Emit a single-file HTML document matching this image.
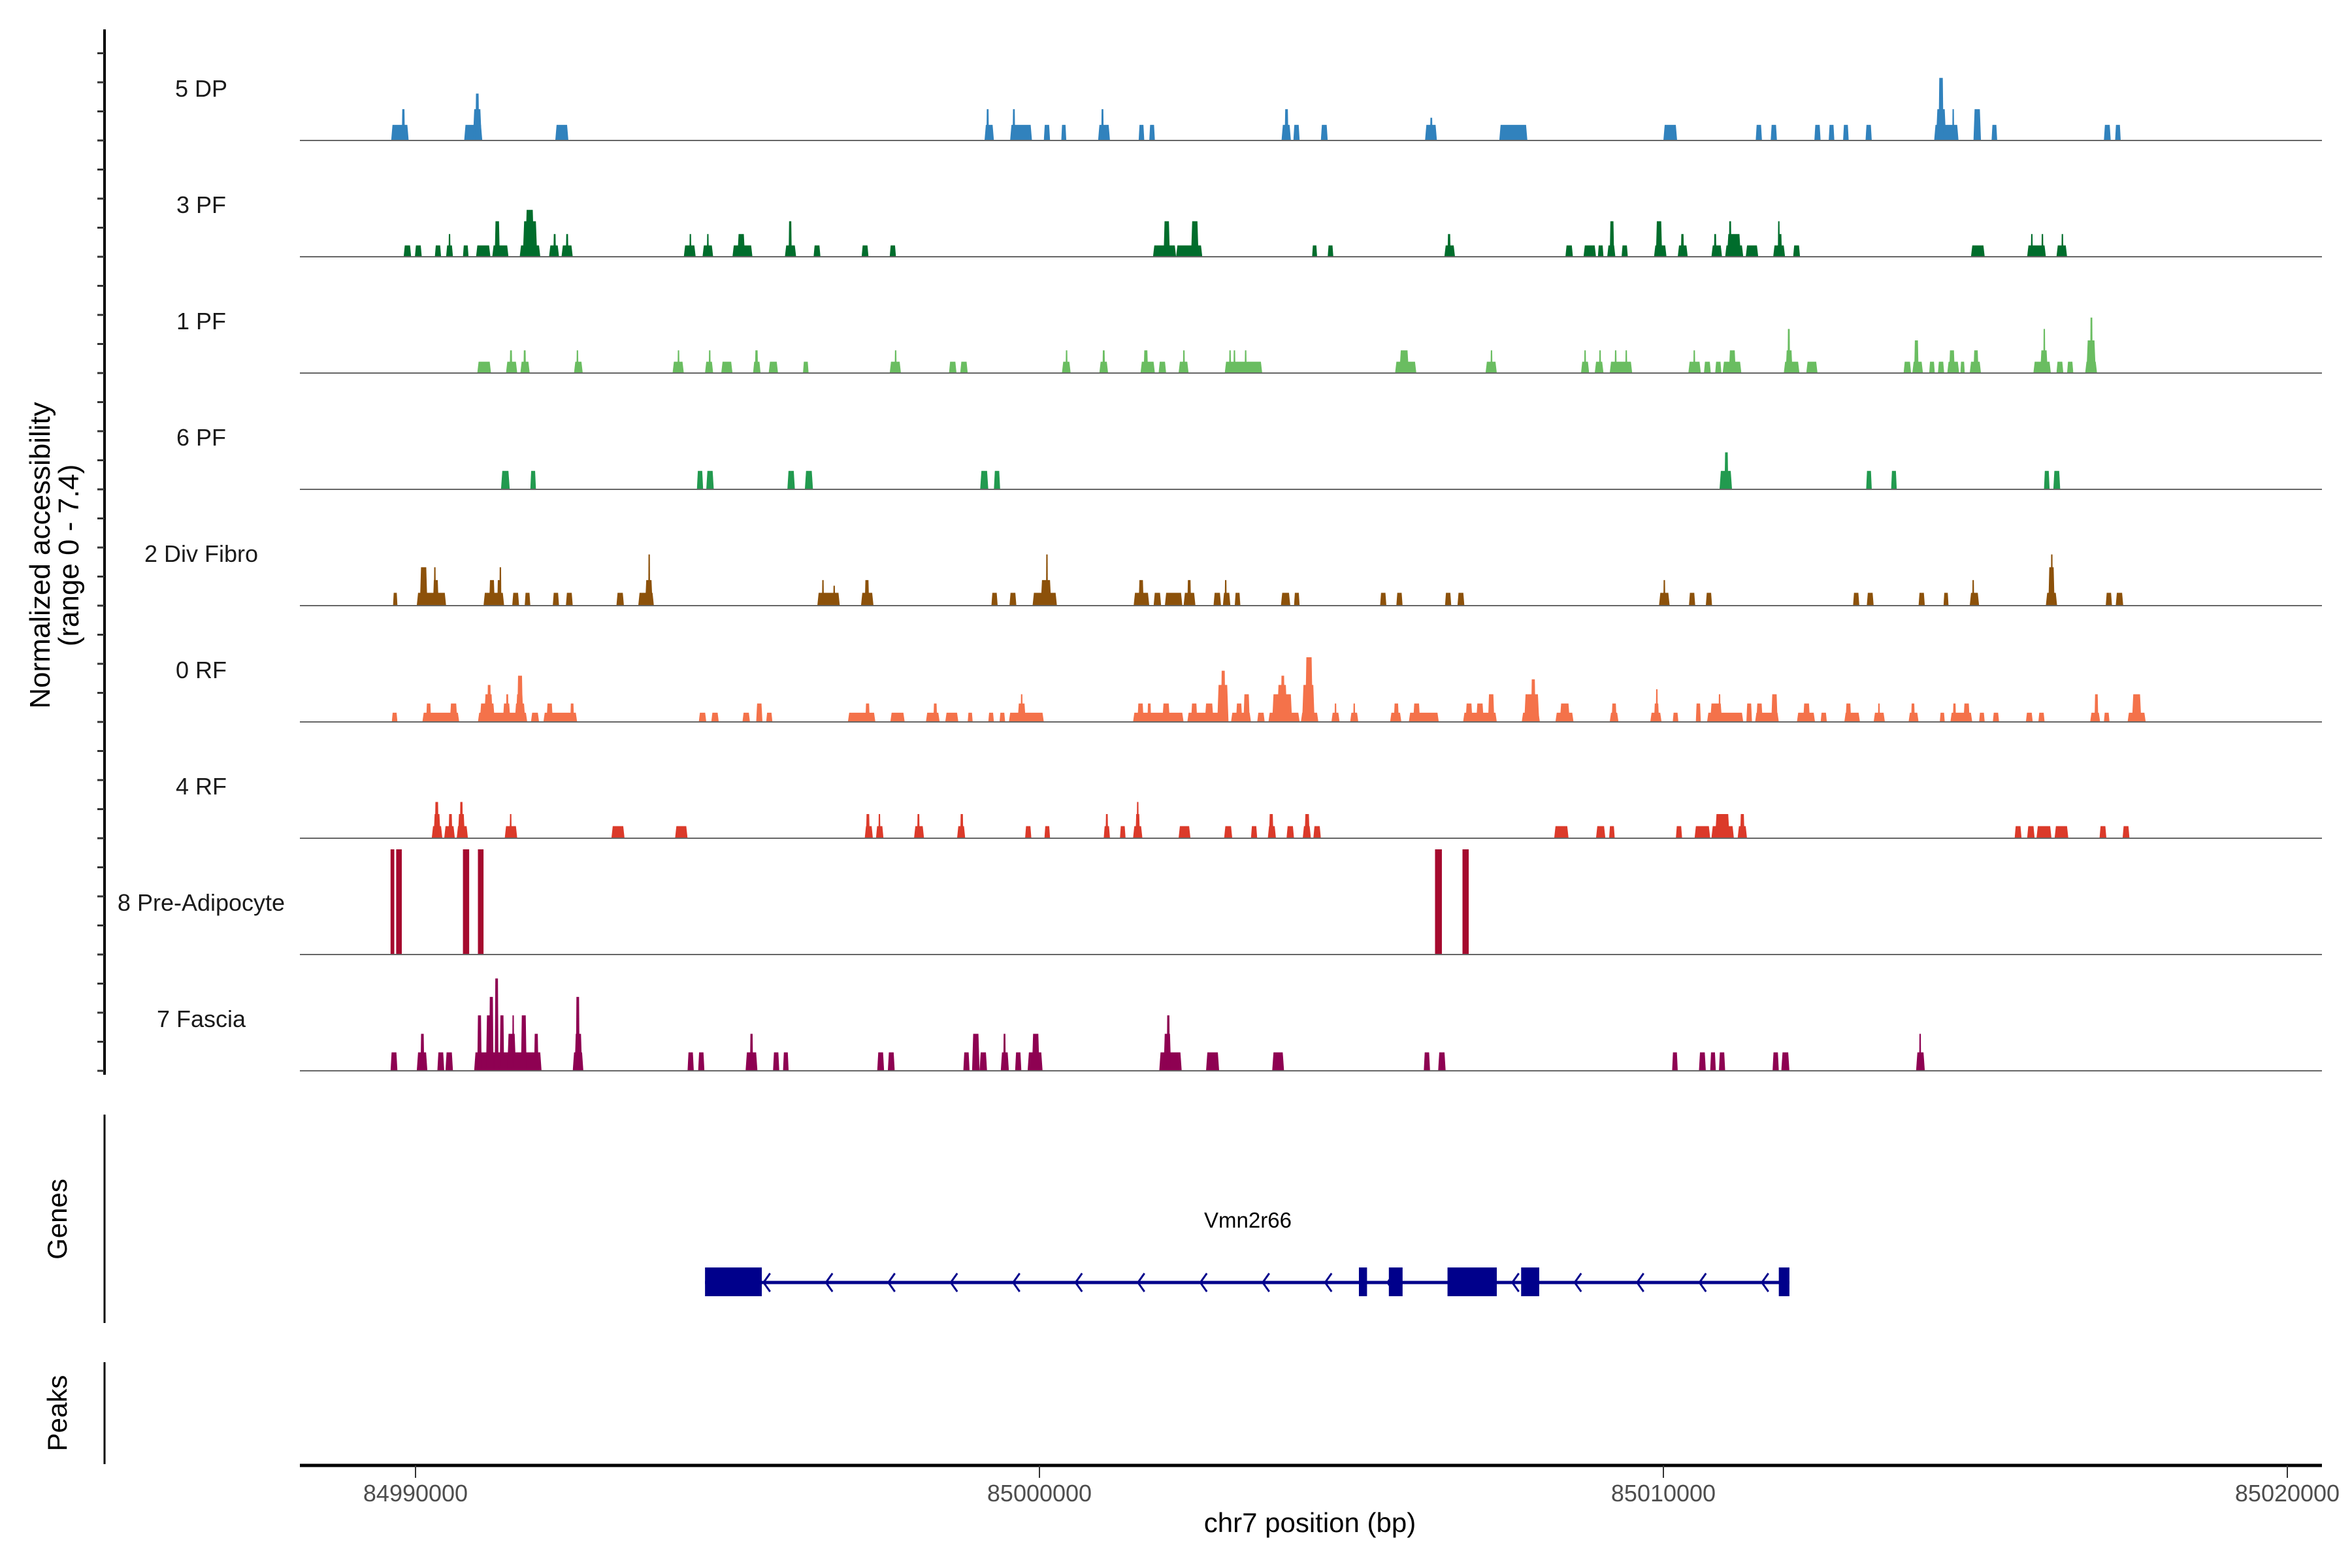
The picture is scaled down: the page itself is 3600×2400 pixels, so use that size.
<!DOCTYPE html>
<html><head><meta charset="utf-8">
<style>
html,body{margin:0;padding:0;background:#fff;}
svg{display:block;font-family:"Liberation Sans",Arial,sans-serif;}
</style></head>
<body>
<svg id="chart" width="3600" height="2400" viewBox="0 0 3600 2400" xmlns="http://www.w3.org/2000/svg">
<rect x="0" y="0" width="3600" height="2400" fill="#fff"/>
<g id="tracks"></g>
<g id="axes"></g>
<g id="genes"></g>
</svg>
<script>
// ---- data (positions in kb offset from 84,990,000 bp; heights in normalized accessibility) ----
const regionOrigin = 84990000;
const trackNames = ["5 DP","3 PF","1 PF","6 PF","2 Div Fibro","0 RF","4 RF","8 Pre-Adipocyte","7 Fascia"];
const trackColors = ["#3182bd","#006d2c","#6abd61","#229a4f","#8c510a","#f4724a","#db3a2a","#a50a2e","#8e0152"];
const xTicks = [84990000,85000000,85010000,85020000];
const xTickLabels = ["84990000","85000000","85010000","85020000"];

const peaksDP = [[-0.39,-0.11,1.1],[-0.22,-0.17,2.2],[0.78,1.07,1.1],[0.92,1.06,2.2],[0.96,1.02,3.3],[2.24,2.45,1.1],[9.12,9.27,1.1],[9.15,9.19,2.2],[9.53,9.88,1.1],[9.57,9.61,2.2],[10.07,10.17,1.1],[10.35,10.43,1.1],[10.94,11.13,1.1],[10.99,11.03,2.2],[11.59,11.68,1.1],[11.76,11.85,1.1],[13.88,14.03,1.1],[14.07,14.17,1.1],[13.93,13.99,2.2],[14.51,14.62,1.1],[16.18,16.37,1.1],[16.26,16.30,1.6],[17.37,17.82,1.1],[20.00,20.22,1.1],[21.48,21.58,1.1],[21.72,21.82,1.1],[22.42,22.52,1.1],[22.65,22.74,1.1],[22.88,22.97,1.1],[23.24,23.34,1.1],[24.34,24.73,1.1],[24.37,24.53,2.2],[24.41,24.49,4.4],[24.63,24.66,2.2],[24.97,25.09,2.2],[25.26,25.35,1.1],[27.06,27.17,1.1],[27.24,27.33,1.1]];
const peaksPF3 = [[-0.19,-0.07,0.8],[-0.01,0.10,0.8],[0.31,0.41,0.8],[0.49,0.60,0.8],[0.53,0.56,1.6],[0.76,0.85,0.8],[0.97,1.20,0.8],[1.23,1.49,0.8],[1.27,1.35,2.5],[1.67,2.00,0.8],[1.72,1.95,2.5],[1.76,1.90,3.3],[2.14,2.30,0.8],[2.21,2.25,1.6],[2.34,2.52,0.8],[2.41,2.45,1.6],[4.30,4.49,0.8],[4.39,4.42,1.6],[4.60,4.77,0.8],[4.67,4.70,1.6],[5.08,5.40,0.8],[5.16,5.28,1.6],[5.92,6.10,0.8],[5.98,6.03,2.5],[6.38,6.49,0.8],[7.15,7.26,0.8],[7.60,7.70,0.8],[11.82,12.19,0.8],[11.99,12.09,2.5],[12.19,12.61,0.8],[12.43,12.55,2.5],[14.37,14.45,0.8],[14.62,14.71,0.8],[16.49,16.66,0.8],[16.54,16.59,1.6],[18.43,18.55,0.8],[18.72,18.92,0.8],[18.95,19.04,0.8],[19.10,19.23,0.8],[19.14,19.21,2.5],[19.33,19.43,0.8],[19.85,20.05,0.8],[19.88,19.98,2.5],[20.23,20.39,0.8],[20.28,20.33,1.6],[20.77,20.94,0.8],[20.81,20.85,1.6],[20.99,21.28,0.8],[21.02,21.24,1.6],[21.05,21.09,2.5],[21.32,21.52,0.8],[21.76,21.95,0.8],[21.84,21.90,1.6],[21.84,21.86,2.5],[22.08,22.19,0.8],[24.93,25.15,0.8],[25.83,26.13,0.8],[25.89,25.92,1.6],[26.06,26.09,1.6],[26.30,26.47,0.8],[26.38,26.41,1.6]];
const peaksPF1 = [[0.99,1.21,0.8],[1.45,1.63,0.8],[1.51,1.55,1.6],[1.68,1.83,0.8],[1.73,1.77,1.6],[2.54,2.68,0.8],[2.58,2.61,1.6],[4.12,4.30,0.8],[4.20,4.23,1.6],[4.64,4.77,0.8],[4.70,4.73,1.6],[4.90,5.08,0.8],[5.41,5.53,0.8],[5.44,5.49,1.6],[5.66,5.81,0.8],[6.21,6.30,0.8],[7.60,7.78,0.8],[7.68,7.71,1.6],[8.55,8.67,0.8],[8.73,8.85,0.8],[10.36,10.50,0.8],[10.42,10.45,1.6],[10.96,11.10,0.8],[11.01,11.05,1.6],[11.62,11.85,0.8],[11.67,11.74,1.6],[11.91,12.03,0.8],[12.23,12.39,0.8],[12.30,12.33,1.6],[12.97,13.57,0.8],[13.04,13.07,1.6],[13.11,13.14,1.6],[13.29,13.32,1.6],[15.70,16.04,0.8],[15.77,15.92,1.6],[17.15,17.33,0.8],[17.23,17.26,1.6],[18.68,18.81,0.8],[18.73,18.76,1.6],[18.90,19.04,0.8],[18.97,19.00,1.6],[19.14,19.50,0.8],[19.22,19.25,1.6],[19.39,19.42,1.6],[20.40,20.60,0.8],[20.48,20.51,1.6],[20.65,20.76,0.8],[20.83,20.93,0.8],[20.95,21.25,0.8],[21.05,21.16,1.6],[21.93,22.18,0.8],[21.96,22.07,1.6],[21.99,22.03,3.1],[22.29,22.47,0.8],[23.85,23.97,0.8],[23.99,24.16,0.8],[24.02,24.09,2.3],[24.26,24.35,0.8],[24.40,24.50,0.8],[24.55,24.74,0.8],[24.58,24.67,1.6],[24.76,24.83,0.8],[24.91,25.09,0.8],[24.97,25.05,1.6],[25.93,26.21,0.8],[26.04,26.16,1.6],[26.09,26.12,3.1],[26.30,26.41,0.8],[26.47,26.57,0.8],[26.76,26.95,0.8],[26.78,26.93,2.3],[26.84,26.88,3.9]];
const peaksPF6 = [[1.37,1.51,1.3],[1.84,1.93,1.3],[4.51,4.61,1.3],[4.66,4.78,1.3],[5.96,6.08,1.3],[6.24,6.37,1.3],[9.05,9.18,1.3],[9.27,9.37,1.3],[20.90,21.10,1.3],[20.98,21.04,2.6],[23.25,23.34,1.3],[23.65,23.74,1.3],[26.10,26.19,1.3],[26.25,26.36,1.3]];
const peaksDiv = [[-0.36,-0.29,0.9],[0.02,0.49,0.9],[0.07,0.19,2.7],[0.28,0.37,1.8],[0.30,0.32,2.7],[1.09,1.42,0.9],[1.18,1.27,1.8],[1.31,1.37,1.8],[1.35,1.37,2.7],[1.55,1.66,0.9],[1.75,1.84,0.9],[2.20,2.30,0.9],[2.41,2.52,0.9],[3.22,3.34,0.9],[3.57,3.82,0.9],[3.68,3.80,1.8],[3.73,3.76,3.6],[6.44,6.80,0.9],[6.52,6.54,1.8],[6.70,6.72,1.4],[7.14,7.34,0.9],[7.20,7.27,1.8],[9.23,9.33,0.9],[9.52,9.63,0.9],[9.89,10.28,0.9],[10.02,10.19,1.8],[10.11,10.13,3.6],[11.51,11.76,0.9],[11.59,11.67,1.8],[11.83,11.95,0.9],[12.01,12.29,0.9],[12.31,12.50,0.9],[12.37,12.43,1.8],[12.79,12.91,0.9],[12.94,13.06,0.9],[12.97,13.00,1.8],[13.13,13.22,0.9],[13.87,14.02,0.9],[14.08,14.17,0.9],[15.46,15.56,0.9],[15.72,15.82,0.9],[16.50,16.60,0.9],[16.70,16.81,0.9],[19.93,20.10,0.9],[20.00,20.03,1.8],[20.41,20.51,0.9],[20.68,20.78,0.9],[23.04,23.14,0.9],[23.26,23.37,0.9],[24.09,24.19,0.9],[24.49,24.57,0.9],[24.91,25.06,0.9],[24.95,24.98,1.8],[26.13,26.31,0.9],[26.17,26.27,2.7],[26.21,26.24,3.6],[27.09,27.19,0.9],[27.25,27.37,0.9]];
const peaksRF0 = [[-0.38,-0.29,0.65],[0.11,0.70,0.65],[0.17,0.25,1.3],[0.55,0.67,1.3],[1.00,1.79,0.65],[1.03,1.27,1.3],[1.10,1.24,1.95],[1.15,1.21,2.6],[1.40,1.52,1.3],[1.45,1.49,1.95],[1.59,1.76,1.3],[1.61,1.73,1.95],[1.63,1.72,3.25],[1.85,1.98,0.65],[2.05,2.59,0.65],[2.10,2.20,1.3],[2.48,2.54,1.3],[4.54,4.66,0.65],[4.74,4.86,0.65],[5.24,5.36,0.65],[5.46,5.56,1.3],[5.62,5.72,0.65],[6.93,7.37,0.65],[7.21,7.28,1.3],[7.61,7.84,0.65],[8.18,8.40,0.65],[8.30,8.36,1.3],[8.49,8.70,0.65],[8.85,8.93,0.65],[9.18,9.27,0.65],[9.36,9.45,0.65],[9.51,10.07,0.65],[9.65,9.78,1.3],[9.70,9.73,1.95],[11.50,12.31,0.65],[11.57,11.67,1.3],[11.73,11.79,1.3],[11.97,12.09,1.3],[12.37,13.03,0.65],[12.43,12.53,1.3],[12.65,12.79,1.3],[12.85,13.03,2.6],[12.91,12.98,3.6],[13.07,13.39,0.65],[13.15,13.25,1.3],[13.27,13.37,1.95],[13.49,13.61,0.65],[13.67,14.17,0.65],[13.73,14.05,1.95],[13.81,13.97,2.6],[13.87,13.93,3.25],[14.19,14.47,0.65],[14.21,14.41,2.6],[14.26,14.38,4.55],[14.68,14.81,0.65],[14.73,14.76,1.3],[14.98,15.11,0.65],[15.03,15.06,1.3],[15.62,15.80,0.65],[15.68,15.76,1.3],[15.92,16.40,0.65],[15.99,16.10,1.3],[16.79,17.33,0.65],[16.83,16.94,1.3],[17.00,17.12,1.3],[17.19,17.29,1.95],[17.73,18.02,0.65],[17.77,18.01,1.95],[17.88,17.95,3.0],[18.27,18.56,0.65],[18.34,18.50,1.3],[19.14,19.28,0.65],[19.17,19.25,1.3],[19.79,19.97,0.65],[19.85,19.93,1.3],[19.88,19.91,2.3],[20.15,20.24,0.65],[20.52,20.60,1.3],[20.70,21.28,0.65],[20.75,20.94,1.3],[20.89,20.91,1.95],[21.33,21.42,1.3],[21.47,21.85,0.65],[21.49,21.59,1.3],[21.73,21.83,1.95],[22.14,22.43,0.65],[22.24,22.35,1.3],[22.52,22.62,0.65],[22.90,23.15,0.65],[22.92,23.01,1.3],[23.37,23.55,0.65],[23.44,23.47,1.3],[23.93,24.09,0.65],[23.97,24.03,1.3],[24.43,24.51,0.65],[24.60,24.95,0.65],[24.64,24.69,1.3],[24.81,24.91,1.3],[25.06,25.15,0.65],[25.28,25.38,0.65],[25.81,25.92,0.65],[26.01,26.11,0.65],[26.84,27.00,0.65],[26.91,26.97,1.95],[27.06,27.15,0.65],[27.44,27.73,0.65],[27.51,27.66,1.95]];
const peaksRF4 = [[0.26,0.43,0.85],[0.29,0.40,1.7],[0.31,0.37,2.55],[0.46,0.63,0.85],[0.53,0.59,1.7],[0.66,0.84,0.85],[0.68,0.79,1.7],[0.71,0.76,2.55],[1.43,1.63,0.85],[1.51,1.54,1.7],[3.14,3.35,0.85],[4.16,4.36,0.85],[7.20,7.33,0.85],[7.22,7.28,1.7],[7.38,7.50,0.85],[7.42,7.45,1.7],[7.99,8.15,0.85],[8.04,8.08,1.7],[8.68,8.81,0.85],[8.73,8.78,1.7],[9.77,9.87,0.85],[10.08,10.17,0.85],[11.03,11.13,0.85],[11.06,11.10,1.7],[11.29,11.38,0.85],[11.50,11.65,0.85],[11.54,11.61,1.7],[11.56,11.59,2.55],[12.23,12.42,0.85],[12.96,13.09,0.85],[13.39,13.49,0.85],[13.66,13.79,0.85],[13.68,13.75,1.7],[13.96,14.08,0.85],[14.22,14.35,0.85],[14.25,14.33,1.7],[14.39,14.51,0.85],[18.25,18.48,0.85],[18.92,19.07,0.85],[19.13,19.22,0.85],[20.20,20.30,0.85],[20.50,20.75,0.85],[20.77,21.13,0.85],[20.83,21.06,1.7],[21.19,21.34,0.85],[21.23,21.30,1.7],[25.63,25.74,0.85],[25.83,25.95,0.85],[25.98,26.22,0.85],[26.27,26.49,0.85],[26.99,27.10,0.85],[27.36,27.47,0.85]];
const peaksPA8 = [[-0.40,-0.34,7.4],[-0.31,-0.22,7.4],[0.76,0.86,7.4],[1.00,1.09,7.4],[16.34,16.45,7.4],[16.78,16.88,7.4]];
const peaksFas = [[-0.40,-0.29,1.3],[0.02,0.19,1.3],[0.08,0.14,2.6],[0.35,0.46,1.3],[0.48,0.60,1.3],[0.94,2.02,1.3],[0.99,1.06,3.9],[1.13,1.23,3.9],[1.18,1.25,5.2],[1.27,1.33,6.5],[1.35,1.42,3.9],[1.47,1.61,2.6],[1.55,1.58,3.9],[1.69,1.78,3.9],[1.90,1.97,2.6],[2.52,2.69,1.3],[2.55,2.67,2.6],[2.57,2.63,5.2],[4.36,4.46,1.3],[4.53,4.63,1.3],[5.29,5.48,1.3],[5.36,5.41,2.6],[5.73,5.83,1.3],[5.89,5.98,1.3],[7.40,7.51,1.3],[7.57,7.68,1.3],[8.78,8.88,1.3],[8.92,9.04,2.6],[9.04,9.16,1.3],[9.38,9.51,1.3],[9.42,9.46,2.6],[9.61,9.71,1.3],[9.81,10.05,1.3],[9.88,10.00,2.6],[11.92,12.28,1.3],[11.99,12.11,2.6],[12.04,12.09,3.9],[12.67,12.88,1.3],[13.73,13.92,1.3],[16.16,16.26,1.3],[16.39,16.51,1.3],[20.14,20.23,1.3],[20.57,20.68,1.3],[20.75,20.84,1.3],[20.89,20.99,1.3],[21.75,21.85,1.3],[21.89,22.02,1.3],[24.05,24.19,1.3],[24.10,24.13,2.6]];
const trackPeaks = [peaksDP,peaksPF3,peaksPF1,peaksPF6,peaksDiv,peaksRF0,peaksRF4,peaksPA8,peaksFas];

const geneName = "Vmn2r66";
const geneStartKb = 4.64, geneEndKb = 22.02;
const exonStarts = [4.64,15.12,15.60,16.54,17.72,21.85];
const exonEnds   = [5.55,15.25,15.82,17.33,18.01,22.02];

// ---- scales ----
const NS = "http://www.w3.org/2000/svg";
const plotLeft = 459, plotRight = 3554;
const bpPerPx = 1000/95.5;
function xScale(bp){ return 636 + (bp - 84990000)/bpPerPx; }
function kbToBp(kb){ return regionOrigin + kb*1000; }
const yMax = 7.4, trackPx = 161, firstBase = 215, trackStep = 178;
function yScale(v, base){ return base - Math.min(v, yMax)/yMax*trackPx; }
function mk(tag, attrs, parent){ const e=document.createElementNS(NS,tag); for(const k in attrs) e.setAttribute(k, attrs[k]); parent.appendChild(e); return e; }

const tracksG = document.getElementById('tracks');
trackNames.forEach((name, i) => {
  const base = firstBase + i*trackStep;
  const g = mk('g', {}, tracksG);
  
  
  const lab = mk('text', {x:308, y:base-67, 'font-size':36, 'text-anchor':'middle', fill:'#1a1a1a'}, g);
  lab.textContent = name;
  
  
  trackPeaks[i].forEach(p => {
    let x0 = xScale(kbToBp(p[0])), x1 = xScale(kbToBp(p[1]));
    if (x1 - x0 < 3) { const c=(x0+x1)/2; x0=c-1.5; x1=c+1.5; }
    const yT = yScale(p[2], base);
    const d = p[2] >= yMax ? 0 : Math.min((x1-x0)*0.15, 2);
    const poly = mk('polygon', {points:`${x0},${base} ${x0+d},${yT} ${x1-d},${yT} ${x1},${base}`, fill:trackColors[i]}, g);
    
    
  });
  const bl = mk('line', {x1:plotLeft, x2:plotRight, y1:base, y2:base, stroke:'#666', 'stroke-width':2}, g);
  
  
});

// ---- axes ----
const axesG = document.getElementById('axes');
const yAxis = mk('line', {x1:160, x2:160, y1:45, y2:1645, stroke:'#000', 'stroke-width':4}, axesG);


for (let i=0;i<trackNames.length;i++){
  const base = firstBase + i*trackStep;
  for (let k=0;k<4;k++){
    const y = base - k*trackStep/4;
    const t = mk('line', {x1:149, x2:160, y1:y, y2:y, stroke:'#333', 'stroke-width':3}, axesG);
    
    
  }
}
const yTitle = mk('text', {transform:'translate(84,850) rotate(-90)', 'font-size':44, 'text-anchor':'middle', fill:'#000'}, axesG);


const t1 = mk('tspan', {x:0, dy:-8}, yTitle); t1.textContent = 'Normalized accessibility';
const t2 = mk('tspan', {x:0, dy:44}, yTitle); t2.textContent = '(range 0 - 7.4)';

const gAx = mk('line', {x1:160, x2:160, y1:1706, y2:2025, stroke:'#000', 'stroke-width':3}, axesG);
 
const gT = mk('text', {transform:'translate(102,1866) rotate(-90)', 'font-size':42, 'text-anchor':'middle', fill:'#000'}, axesG);
gT.textContent = 'Genes';  
const pAx = mk('line', {x1:160, x2:160, y1:2085, y2:2241, stroke:'#000', 'stroke-width':3}, axesG);
 
const pT = mk('text', {transform:'translate(102,2163) rotate(-90)', 'font-size':42, 'text-anchor':'middle', fill:'#000'}, axesG);
pT.textContent = 'Peaks';  

const xAx = mk('line', {x1:plotLeft, x2:plotRight, y1:2243, y2:2243, stroke:'#000', 'stroke-width':5}, axesG);
 
xTicks.forEach((v, i) => {
  const x = xScale(v);
  const tk = mk('line', {x1:x, x2:x, y1:2243, y2:2262, stroke:'#333', 'stroke-width':2}, axesG);
   
  const tl = mk('text', {x:x, y:2298, 'font-size':36, 'text-anchor':'middle', fill:'#4d4d4d'}, axesG);
  tl.textContent = xTickLabels[i];
   
});
const xTitle = mk('text', {x:2005, y:2345, 'font-size':42, 'text-anchor':'middle', fill:'#000'}, axesG);
xTitle.textContent = 'chr7 position (bp)';
 

// ---- gene ----
const genesG = document.getElementById('genes');
const gx0 = xScale(kbToBp(geneStartKb)), gx1 = xScale(kbToBp(geneEndKb));
const gLine = mk('line', {x1:gx0, x2:gx1, y1:1963, y2:1963, stroke:'#00008b', 'stroke-width':5}, genesG);
 
for (let kb = geneStartKb + 0.98; kb < geneEndKb - 0.1; kb += 1.0){
  const x = xScale(kbToBp(kb));
  const a = mk('polyline', {points:`${x+6},${1949} ${x-4},${1963} ${x+6},${1977}`, fill:'none', stroke:'#00008b', 'stroke-width':3}, genesG);
   
}
exonStarts.forEach((s, i) => {
  const x0 = xScale(kbToBp(s)), x1 = xScale(kbToBp(exonEnds[i]));
  const r = mk('rect', {x:x0, y:1940, width:Math.max(x1-x0,3), height:44, fill:'#00008b'}, genesG);
   
});
const gl = mk('text', {x:1910, y:1879, 'font-size':33, 'text-anchor':'middle', fill:'#000'}, genesG);
gl.textContent = geneName;
 
</script>
</body></html>
